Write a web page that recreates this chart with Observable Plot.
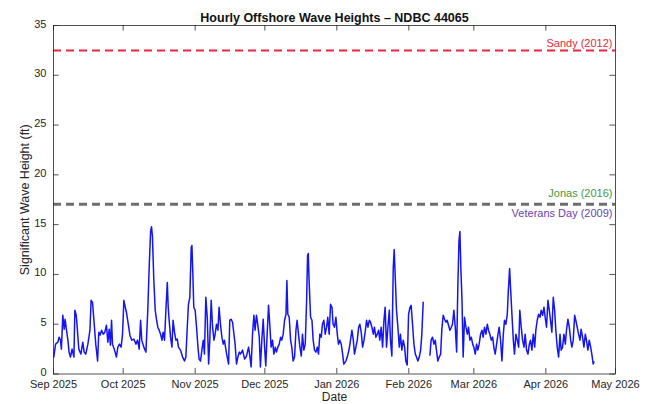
<!DOCTYPE html>
<html>
<head>
<meta charset="utf-8">
<script src="https://cdn.jsdelivr.net/npm/d3@7"></script>
<script src="https://cdn.jsdelivr.net/npm/@observablehq/plot@0.6"></script>
<style>
  html, body { margin: 0; padding: 0; background: #fff; }
</style>
</head>
<body>
<div id="chart"></div>
<script>
// ---- Data ----
const startDate = "2025-09-01"; // day offsets are counted from this date (UTC)
const dayOffsets = [
  0.1,0.9,1.9,2.4,3.0,3.4,4.0,4.6,5.0,5.6,6.2,6.7,7.3,8.0,8.8,9.2,9.8,10.3,10.9,11.8,12.6,13.2,13.9,14.8,15.7,16.2,16.8,17.4,18.2,19.0,
  19.5,20.1,20.7,21.4,22.1,22.8,23.4,24.0,24.5,25.0,25.4,26.3,27.1,27.7,28.4,29.1,29.7,30.3,30.9,31.4,32.2,32.9,33.7,34.6,35.5,36.2,36.9,37.5,38.0,38.9,
  39.8,40.6,41.2,41.8,42.2,42.6,43.2,43.8,44.4,44.9,45.5,46.1,46.7,47.2,47.8,48.4,49.0,49.4,49.8,50.4,51.0,51.5,52.1,52.7,53.3,53.8,54.7,55.6,56.4,57.0,
  57.6,58.1,58.7,59.3,59.6,60.0,60.4,61.0,61.6,62.2,62.7,63.3,63.9,64.5,65.0,65.6,66.2,66.8,67.3,67.9,68.5,69.1,69.6,70.2,70.8,71.3,71.9,72.5,73.1,73.6,
  74.2,74.8,75.4,75.9,76.5,77.1,77.7,78.2,78.8,79.4,80.0,80.5,81.4,82.3,83.1,84.0,84.6,85.1,85.7,86.3,86.8,87.4,88.0,88.6,89.1,89.7,90.3,90.9,91.4,92.0,
  92.6,93.2,93.7,94.3,94.9,95.5,96.0,96.6,97.2,97.8,98.3,98.9,99.5,100.1,100.5,100.9,101.5,102.1,102.6,103.2,103.8,104.4,104.9,105.5,106.1,106.7,107.2,107.8,108.4,109.0,
  109.4,109.7,110.1,110.7,111.3,111.8,112.4,113.0,113.6,114.1,114.7,115.3,115.8,116.4,117.0,117.6,118.1,118.7,119.3,119.9,120.4,121.0,121.6,122.2,122.7,123.3,
  123.9,124.5,125.0,125.9,126.5,127.3,127.9,128.5,129.1,129.6,130.2,130.8,131.4,131.9,132.5,133.1,133.7,134.2,134.8,135.4,136.0,136.5,137.1,137.7,138.2,138.8,139.4,140.0,140.5,141.1,
  141.7,142.3,142.8,143.4,144.0,144.6,145.1,145.7,146.3,146.7,147.1,147.7,148.3,148.9,149.4,150.0,150.6,151.2,151.7,152.3,152.9,153.5,154.0,154.6,155.2,155.8,156.3,156.9,157.5,158.1,
  158.6,159.2,160.5,162.1,162.6,163.2,163.8,164.4,164.9,165.5,166.1,166.7,167.2,167.8,168.4,169.0,169.5,170.1,170.7,171.3,171.8,172.4,173.0,173.6,174.1,174.6,175.0,175.4,175.9,176.4,
  177.0,177.6,178.2,178.7,179.3,179.9,180.5,181.0,181.6,182.2,182.7,183.3,183.9,184.5,185.0,185.6,186.2,186.8,187.3,187.9,188.5,189.1,189.6,190.2,190.8,191.4,191.9,192.5,193.1,193.7,
  194.2,194.8,195.4,195.8,196.4,196.8,197.4,198.0,198.5,199.1,199.7,200.3,200.8,201.4,202.0,202.6,203.1,203.7,204.3,204.9,205.4,206.0,206.6,207.2,207.7,208.3,208.9,209.5,210.0,210.6,
  211.2,211.7,212.3,212.9,213.5,214.0,214.6,215.2,215.8,216.3,216.9,217.5,218.1,218.6,219.2,219.8,220.4,220.9,221.5,222.1,222.7,223.2,223.8,224.4,224.9,225.5,226.1,226.7,227.2,227.8,
  228.4,229.0,229.5,230.1,230.7,231.3,231.8,232.4,232.7
];
const waveHeights = [
  1.7,3.0,3.2,3.7,3.4,2.5,5.9,4.5,5.5,4.4,3.4,2.2,1.7,2.5,1.7,6.4,5.9,4.4,2.5,2.0,3.2,2.2,2.0,3.0,4.4,7.4,7.2,5.4,3.0,1.3,
  4.2,3.9,4.4,4.0,4.2,4.9,3.2,4.5,2.9,5.4,3.0,2.4,1.7,2.7,3.0,2.7,3.9,7.4,6.7,6.2,5.0,3.9,3.4,3.5,3.0,3.4,2.5,5.4,3.4,2.7,
  2.2,6.4,10.7,14.3,14.8,13.8,9.4,6.4,5.4,4.7,4.4,4.0,3.4,4.2,3.4,6.4,9.2,6.7,5.4,3.7,2.7,5.4,4.2,3.4,3.5,2.7,2.4,1.7,1.3,1.7,
  4.7,7.0,7.7,12.7,12.9,10.1,6.7,6.4,4.7,2.7,1.5,1.3,2.4,3.4,2.0,7.7,5.7,1.0,3.4,7.4,4.7,3.4,4.0,5.0,4.4,6.7,5.0,3.7,3.0,3.4,
  2.5,1.7,1.0,5.4,5.5,5.2,4.0,3.0,1.0,1.7,2.2,2.0,2.4,1.5,1.8,2.7,1.7,0.7,4.0,5.9,4.4,5.9,4.9,3.7,0.7,3.4,5.5,2.7,0.8,4.0,
  6.9,4.7,2.7,3.4,2.0,2.7,2.2,2.7,3.0,3.7,3.4,4.0,5.4,6.0,9.4,6.0,5.7,3.4,2.7,1.3,1.7,4.4,5.4,4.0,2.7,1.8,4.0,2.4,3.0,7.4,
  11.9,12.1,9.1,5.7,5.4,3.4,2.4,2.2,2.7,2.0,4.0,3.7,5.0,5.4,4.0,4.7,5.7,4.0,7.0,6.7,5.0,4.7,5.7,4.0,3.0,3.4,
  3.0,2.0,1.0,1.3,1.7,2.5,3.4,4.4,3.4,2.0,2.7,3.4,4.7,5.0,4.2,2.7,3.4,4.2,5.4,4.7,5.4,5.2,4.7,4.0,4.7,3.7,4.0,4.4,3.4,4.7,
  2.7,5.4,6.7,2.7,4.7,6.4,3.4,1.8,10.7,12.5,10.1,6.4,4.7,2.7,4.0,2.4,3.4,2.7,1.3,0.9,6.0,6.7,6.9,5.0,3.0,2.0,1.7,1.3,1.7,2.4,
  4.0,7.2,null,1.9,3.4,3.7,3.0,3.4,2.4,1.3,1.7,2.0,4.4,5.9,5.5,5.2,5.4,4.9,4.4,4.7,5.0,6.4,4.7,2.2,8.7,13.4,14.3,10.7,7.4,1.7,
  5.7,4.7,4.0,4.7,3.4,3.7,3.0,2.7,2.0,3.0,2.4,3.0,4.0,4.4,3.7,4.7,4.0,5.0,4.4,4.0,3.4,3.7,2.7,2.0,3.0,4.0,4.7,3.4,1.3,4.0,
  5.4,5.0,6.0,8.1,10.6,8.7,6.0,3.4,2.0,4.0,3.4,2.7,6.4,4.7,3.4,2.7,4.0,2.4,2.0,3.0,3.4,2.4,4.0,2.7,4.4,5.4,6.0,5.7,6.4,5.9,
  6.7,5.7,4.7,7.4,6.4,5.4,4.2,7.7,6.4,4.4,2.7,1.7,4.0,2.4,2.7,4.0,3.0,4.4,5.5,4.7,3.4,2.7,3.4,5.9,5.4,4.7,4.0,3.4,4.5,3.7,
  2.7,4.0,3.4,2.4,3.4,2.7,2.0,1.0,1.2
];

// Reference storm heights (ft)
const stormNames  = ["Sandy (2012)", "Jonas (2016)", "Veterans Day (2009)"];
const stormHeights = [32.5, 17.1, 17.0];
const stormColors  = ["#e8283c", "#3f9a3f", "#6a3fb0"];
const stormLineColors = ["#e8283c", "#6e6e6e", "#6e6e6e"];

// Axis ticks
const xTickLabels = ["Sep 2025","Oct 2025","Nov 2025","Dec 2025","Jan 2026","Feb 2026","Mar 2026","Apr 2026","May 2026"];
const xTickDates = ["2025-09-01","2025-10-01","2025-11-01","2025-12-01","2026-01-01","2026-02-01","2026-03-01","2026-04-01","2026-05-01"];
const yTicks = [0, 5, 10, 15, 20, 25, 30, 35];

// ---- Build ----
const DAY = 864e5;
const t0 = new Date(startDate + "T00:00:00Z").getTime();
const series = dayOffsets.map((d, i) => ({date: new Date(t0 + d * DAY), h: waveHeights[i] == null ? NaN : waveHeights[i]}));
const xTicks = xTickDates.map(s => new Date(s + "T00:00:00Z"));
const xDomain = [xTicks[0], xTicks[xTicks.length - 1]];
const labelOf = new Map(xTicks.map((d, i) => [+d, xTickLabels[i]]));
const storms = stormNames.map((n, i) => ({name: n, h: stormHeights[i], color: stormColors[i], line: stormLineColors[i]}));

const axisColor = "#262626";
const tickLenX = 2.4 * DAY;   // inward tick length on left/right edges
const tickLenY = 0.56;         // inward tick length on top/bottom edges
const font = "'Liberation Sans', Arial, Helvetica, sans-serif";

const stormLabel = (i, dy) => Plot.text([storms[i]], {x: xDomain[1], y: "h", text: "name", fill: storms[i].color, textAnchor: "end", dx: -3, dy, fontSize: 11});

const chart = Plot.plot({
  width: 652,
  height: 404,
  marginLeft: 53,
  marginRight: 37,
  marginTop: 25,
  marginBottom: 30.5,
  style: {fontFamily: font, fontSize: "11px", color: axisColor, background: "#fff"},
  x: {type: "utc", domain: xDomain},
  y: {domain: [0, 35]},
  marks: [
    Plot.axisX({ticks: xTicks, tickFormat: d => labelOf.get(+d), tickSize: 0, tickPadding: 6.5, label: null, fontSize: 11, fill: axisColor}),
    Plot.axisY({ticks: yTicks, tickSize: 0, tickPadding: 7, dy: -1.5, label: null, fontSize: 11, fill: axisColor}),
    Plot.ruleY(storms, {y: "h", stroke: "line", strokeWidth: 2, strokeDasharray: "8,5"}),
    Plot.line(series, {x: "date", y: "h", stroke: "#1414f5", strokeWidth: 1.5}),
    stormLabel(0, -7),
    stormLabel(1, -10),
    stormLabel(2, 9),
    Plot.ruleX(xTicks, {y1: 0, y2: tickLenY, stroke: axisColor, strokeWidth: 0.8}),
    Plot.ruleX(xTicks, {y1: 35 - tickLenY, y2: 35, stroke: axisColor, strokeWidth: 0.8}),
    Plot.ruleY(yTicks, {x1: xDomain[0], x2: new Date(+xDomain[0] + tickLenX), stroke: axisColor, strokeWidth: 0.8}),
    Plot.ruleY(yTicks, {x1: new Date(+xDomain[1] - tickLenX), x2: xDomain[1], stroke: axisColor, strokeWidth: 0.8}),
    Plot.frame({stroke: axisColor, strokeWidth: 0.8}),
    Plot.text(["Hourly Offshore Wave Heights \u2013 NDBC 44065"], {frameAnchor: "top", textAnchor: "middle", dy: -12, fontWeight: "bold", fontSize: 12.5, fill: "#111"}),
    Plot.text(["Date"], {frameAnchor: "bottom", textAnchor: "middle", dy: 26.5, fontSize: 12, fill: axisColor}),
    Plot.text(["Significant Wave Height (ft)"], {frameAnchor: "left", textAnchor: "middle", dx: -29, rotate: -90, fontSize: 12.5, fill: axisColor})
  ]
});
document.getElementById("chart").appendChild(chart);
</script>
</body>
</html>
